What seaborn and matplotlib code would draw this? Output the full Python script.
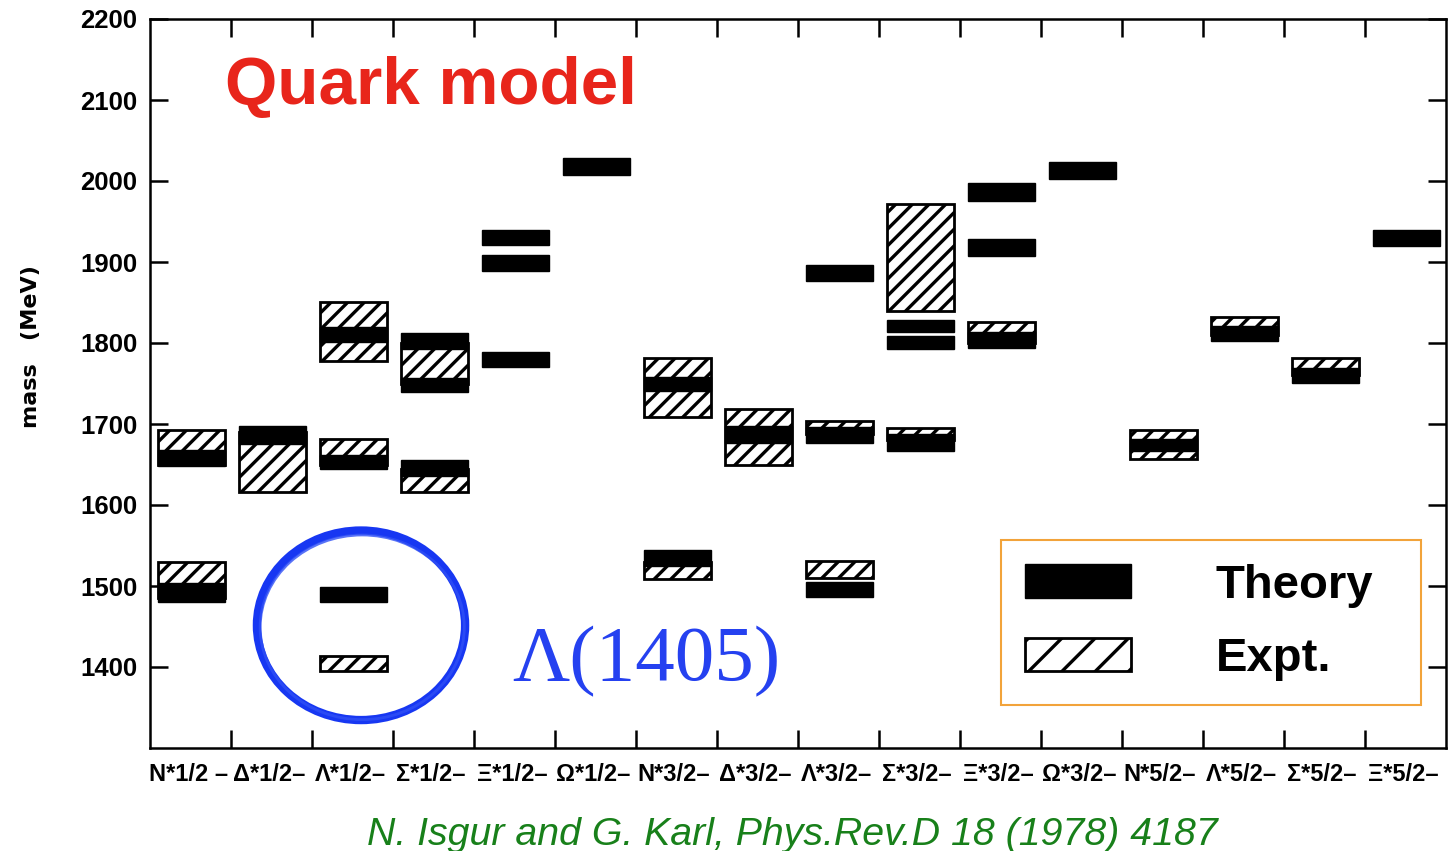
import matplotlib
matplotlib.use("Agg")
import matplotlib.pyplot as plt
from matplotlib.patches import Patch, Ellipse
from matplotlib.ticker import FixedLocator, FixedFormatter, NullLocator
import seaborn as sns

# ---------------- data (masses in MeV) ----------------
categories = ["N*1/2 –", "Δ*1/2–", "Λ*1/2–", "Σ*1/2–", "Ξ*1/2–", "Ω*1/2–",
              "N*3/2–", "Δ*3/2–", "Λ*3/2–", "Σ*3/2–", "Ξ*3/2–", "Ω*3/2–",
              "N*5/2–", "Λ*5/2–", "Σ*5/2–", "Ξ*5/2–"]

# theory levels: category index, low, high
theory_cat = [0, 0, 1, 2, 2, 2, 3, 3, 3, 4, 4, 4, 5, 6, 6, 7, 8, 8, 8,
              9, 9, 9, 10, 10, 10, 11, 12, 13, 14, 15]
theory_lo = [1648, 1480, 1675, 1801, 1645, 1480, 1792, 1739, 1636, 1921, 1889, 1770, 2008,
             1741, 1525, 1677, 1877, 1677, 1487, 1813, 1793, 1667, 1975, 1907, 1794,
             2002, 1667, 1802, 1751, 1920]
theory_hi = [1668, 1504, 1698, 1820, 1662, 1499, 1812, 1757, 1655, 1939, 1909, 1789, 2029,
             1758, 1545, 1697, 1896, 1696, 1505, 1829, 1809, 1688, 1997, 1928, 1814,
             2023, 1682, 1821, 1769, 1940]

# experimental ranges: category index, low, high
expt_cat = [0, 0, 1, 2, 2, 2, 3, 3, 6, 6, 7, 8, 8, 9, 9, 10, 12, 13, 14]
expt_lo = [1650, 1485, 1616, 1778, 1650, 1395, 1750, 1616, 1709, 1509, 1650, 1688, 1510,
           1840, 1680, 1800, 1657, 1810, 1760]
expt_hi = [1692, 1530, 1690, 1850, 1681, 1414, 1800, 1645, 1782, 1530, 1719, 1704, 1531,
           1972, 1695, 1826, 1693, 1832, 1781]

y_ticks = [1400, 1500, 1600, 1700, 1800, 1900, 2000, 2100, 2200]

# ---------------- style ----------------
sns.set_style("ticks")
plt.rcParams["font.family"] = ["Liberation Sans", "DejaVu Sans"]
plt.rcParams["text.color"] = "black"
plt.rcParams["hatch.linewidth"] = 2.4
plt.rcParams["hatch.color"] = "black"

W, H = 1448, 851
fig = plt.figure(figsize=(W / 100, H / 100), dpi=100)
ax = fig.add_axes([150 / W, 1 - 748 / H, (1446 - 150) / W, (748 - 19) / H])

box_off = 0.10
box_w = 0.83

# experimental (hatched) boxes
ax.bar([c + box_off for c in expt_cat],
       [h - l for l, h in zip(expt_lo, expt_hi)],
       bottom=expt_lo, width=box_w, align="edge",
       facecolor="white", edgecolor="black", linewidth=2.0,
       hatch="//", zorder=2)

# theory (black) bars
ax.bar([c + box_off for c in theory_cat],
       [h - l for l, h in zip(theory_lo, theory_hi)],
       bottom=theory_lo, width=box_w, align="edge",
       facecolor="black", edgecolor="black", linewidth=1.0, zorder=3)

ax.set_xlim(0, len(categories))
ax.set_ylim(1300, 2200)

# axes / ticks
for s in ax.spines.values():
    s.set_visible(True)
    s.set_linewidth(1.8)
    s.set_color("black")

ax.xaxis.set_major_locator(FixedLocator(list(range(1, len(categories)))))
ax.xaxis.set_major_formatter(FixedFormatter([""] * (len(categories) - 1)))
ax.xaxis.set_minor_locator(FixedLocator([k + 0.47 for k in range(len(categories))]))
ax.xaxis.set_minor_formatter(FixedFormatter(categories))
ax.yaxis.set_major_locator(FixedLocator(y_ticks))
ax.yaxis.set_minor_locator(NullLocator())

ax.tick_params(axis="both", which="both", colors="black")
ax.tick_params(axis="both", which="major", direction="in", length=13, width=1.8,
               top=True, right=True)
ax.tick_params(axis="x", which="minor", length=0, pad=11, labelsize=17)
ax.tick_params(axis="y", which="major", pad=9, labelsize=18.5)
for lbl in ax.get_xticklabels(minor=True) + ax.get_yticklabels():
    lbl.set_fontweight("bold")

ax.grid(False)

# y label
fig.text(31 / W, 1 - 347 / H, "mass   (MeV)", rotation=90, ha="center", va="center",
         fontsize=16, fontweight="bold", family="DejaVu Sans", color="black")

# title
fig.text(225 / W, 1 - 104 / H, "Quark model", color="#E8251B", fontsize=48.5,
         fontweight="bold", ha="left", va="baseline")

# Lambda(1405) annotation
ax.add_patch(Ellipse((2.605, 1451.5), 2.57, 234, fill=False, edgecolor="#1737F2",
                     linewidth=6, zorder=4))
ax.add_patch(Ellipse((2.62, 1449), 2.52, 228, fill=False, edgecolor="#3050F5",
                     linewidth=2, alpha=0.8, zorder=4))
fig.text(512 / W, 1 - 680 / H, "Λ(1405)", color="#2541F0", fontsize=57,
         family="Liberation Serif", ha="left", va="baseline")

# citation
fig.text(792 / W, 1 - 845 / H, "N. Isgur and G. Karl, Phys.Rev.D 18 (1978) 4187",
         color="#18801A", fontsize=28.3, style="italic", ha="center", va="baseline")

# legend
handles = [Patch(facecolor="black", edgecolor="black", linewidth=1.0),
           Patch(facecolor="white", edgecolor="black", linewidth=2.0, hatch="/")]
leg = ax.legend(handles, ["Theory", "Expt."], loc="upper left", mode="expand",
                bbox_to_anchor=(1001 / W, 1 - 703 / H, 420 / W, 163 / H),
                bbox_transform=fig.transFigure,
                borderaxespad=0, frameon=True, fancybox=False, framealpha=1,
                edgecolor="#F2A33A", prop={"size": 34, "weight": "bold"},
                handlelength=2.25, handleheight=0.72, handletextpad=1.8,
                labelspacing=0.62, borderpad=0.5)
leg.get_frame().set_linewidth(1.5)
leg.set_zorder(5)
for t in leg.get_texts():
    t.set_color("black")

fig.savefig("out.png", dpi=100)
